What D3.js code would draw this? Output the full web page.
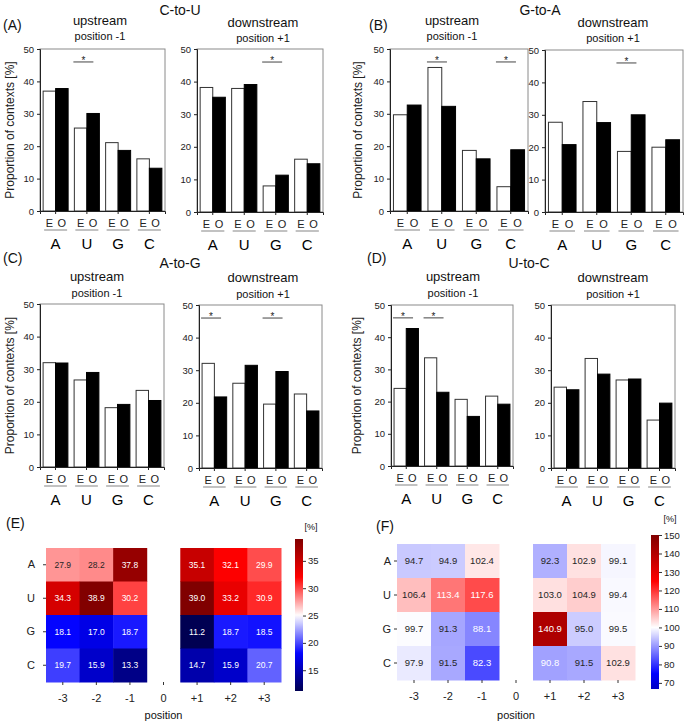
<!DOCTYPE html>
<html>
<head>
<meta charset="utf-8">
<script src="https://cdn.jsdelivr.net/npm/d3@7"></script>
<style>
  body { margin: 0; background: #fff; }
  svg { display: block; font-family: "Liberation Sans", Arial, sans-serif; }
</style>
</head>
<body>
<svg width="685" height="723"></svg>
<script>

// nucleotide categories
const bases = ["A", "U", "G", "C"];

// proportion of contexts [%], E = expected, O = observed
const ctuUpE = [37.0, 25.6, 21.1, 16.1];
const ctuUpO = [37.8, 30.1, 18.7, 13.2];
const ctuDownE = [38.2, 37.9, 8.0, 16.2];
const ctuDownO = [35.2, 39.1, 11.3, 14.8];

const gtaUpE = [29.7, 44.3, 18.7, 7.5];
const gtaUpO = [32.7, 32.3, 16.1, 18.9];
const gtaDownE = [27.7, 34.1, 18.7, 20.0];
const gtaDownO = [20.8, 27.6, 30.0, 22.3];

const atgUpE = [32.0, 26.7, 18.2, 23.5];
const atgUpO = [31.9, 29.0, 19.2, 20.4];
const atgDownE = [32.1, 26.0, 19.6, 22.7];
const atgDownO = [21.8, 31.5, 29.6, 17.5];

const utcUpE = [24.1, 33.6, 20.7, 21.7];
const utcUpO = [42.7, 22.9, 15.4, 19.2];
const utcDownE = [24.8, 33.6, 27.0, 14.7];
const utcDownO = [24.0, 28.8, 27.3, 19.9];

// groups marked with *
const ctuUpSig = ["U"];
const ctuDownSig = ["G"];
const gtaUpSig = ["U", "C"];
const gtaDownSig = ["G"];
const atgUpSig = [];
const atgDownSig = ["A", "G"];
const utcUpSig = ["A", "U"];
const utcDownSig = [];

const yTicks = [0, 10, 20, 30, 40, 50];

// heatmaps (E) and (F), position 0 left empty
const positions = ["-3", "-2", "-1", "0", "+1", "+2", "+3"];
const eA = [27.9, 28.2, 37.8, null, 35.1, 32.1, 29.9];
const eU = [34.3, 38.9, 30.2, null, 39.0, 33.2, 30.9];
const eG = [18.1, 17.0, 18.7, null, 11.2, 18.7, 18.5];
const eC = [19.7, 15.9, 13.3, null, 14.7, 15.9, 20.7];

const fA = [94.7, 94.9, 102.4, null, 92.3, 102.9, 99.1];
const fU = [106.4, 113.4, 117.6, null, 103.0, 104.9, 99.4];
const fG = [99.7, 91.3, 88.1, null, 140.9, 95.0, 99.5];
const fC = [97.9, 91.5, 82.3, null, 90.8, 91.5, 102.9];

const eTicks = [15, 20, 25, 30, 35];
const fTicks = [70, 80, 90, 100, 110, 120, 130, 140, 150];
const eRange = [11.2, 39.0];
const fRange = [66.7, 150];


let svg = d3.select('svg');

// ---------- bar panels ----------

let drawBars = function(box, eVals, oVals, sig, labelX) {
    let [x0, x1, top, bottom] = box;
    let g = svg.append('g');

    let xScale = d3.scaleBand()
        .domain(bases)
        .range([x0, x1]);
    let yScale = d3.scaleLinear()
        .domain([0, 50])
        .range([bottom, top]);
    let bw = xScale.bandwidth();

    // plot frame
    g.append('rect')
        .attr('x', x0).attr('y', top)
        .attr('width', x1 - x0).attr('height', bottom - top)
        .attr('fill', 'none')
        .attr('stroke', '#8a8a8a')
        .attr('stroke-width', 1);

    let rows = bases.map((b, i) => ({ b: b, e: eVals[i], o: oVals[i] }));

    g.selectAll('.ebar')
        .data(rows)
        .enter()
        .append('rect')
        .attr('x', d => xScale(d.b) + bw * 0.1)
        .attr('y', d => yScale(d.e))
        .attr('width', bw * 0.4)
        .attr('height', d => yScale(0) - yScale(d.e))
        .attr('fill', 'white')
        .attr('stroke', '#333')
        .attr('stroke-width', 1);

    g.selectAll('.obar')
        .data(rows)
        .enter()
        .append('rect')
        .attr('x', d => xScale(d.b) + bw * 0.5)
        .attr('y', d => yScale(d.o))
        .attr('width', bw * 0.4)
        .attr('height', d => yScale(0) - yScale(d.o))
        .attr('fill', 'black')
        .attr('stroke', 'black')
        .attr('stroke-width', 1);

    // y axis
    let yAxis = g.append('g')
        .attr('transform', `translate(${x0}, 0)`)
        .call(d3.axisLeft(yScale).tickValues(yTicks).tickSize(3).tickPadding(3));
    yAxis.select('.domain').attr('stroke', '#222');
    yAxis.selectAll('line').attr('stroke', '#222');
    yAxis.selectAll('text')
        .attr('font-size', '9.5px')
        .attr('font-family', '"Liberation Sans", Arial, sans-serif')
        .attr('fill', '#222');

    // x axis with ticks at group centres
    let xAxis = g.append('g')
        .attr('transform', `translate(0, ${bottom})`)
        .call(d3.axisBottom(xScale).tickSize(3).tickFormat(''));
    xAxis.select('.domain').attr('stroke', '#222');
    xAxis.selectAll('line').attr('stroke', '#222');

    // E / O labels, underline and base letter
    rows.forEach(d => {
        let gx = xScale(d.b);
        g.append('text')
            .attr('x', gx + bw * 0.3).attr('y', bottom + 16)
            .attr('text-anchor', 'middle')
            .attr('font-size', '11px')
            .attr('fill', '#222')
            .text('E');
        g.append('text')
            .attr('x', gx + bw * 0.7).attr('y', bottom + 16)
            .attr('text-anchor', 'middle')
            .attr('font-size', '11px')
            .attr('fill', '#222')
            .text('O');
        g.append('line')
            .attr('x1', gx + bw * 0.1 + 1).attr('x2', gx + bw * 0.9 - 1)
            .attr('y1', bottom + 19).attr('y2', bottom + 19)
            .attr('stroke', '#9a9a9a')
            .attr('stroke-width', 1.2);
        g.append('text')
            .attr('x', gx + bw * 0.5).attr('y', bottom + 38)
            .attr('text-anchor', 'middle')
            .attr('font-size', '15px')
            .attr('fill', 'black')
            .text(d.b);
    });

    // significance bars
    sig.forEach(b => {
        let sx = xScale(b) + bw * 0.1 - 1;
        let ly = yScale(46);
        g.append('line')
            .attr('x1', sx).attr('x2', sx + 20)
            .attr('y1', ly).attr('y2', ly)
            .attr('stroke', '#444')
            .attr('stroke-width', 1);
        g.append('text')
            .attr('x', sx + 10).attr('y', ly + 2)
            .attr('text-anchor', 'middle')
            .attr('font-size', '10px')
            .attr('fill', '#222')
            .text('*');
    });

    if (labelX != null) {
        g.append('text')
            .attr('transform', `translate(${labelX}, ${(top + bottom) / 2}) rotate(-90)`)
            .attr('text-anchor', 'middle')
            .attr('font-size', '12px')
            .attr('fill', '#222')
            .text('Proportion of contexts [%]');
    }
}

let addText = function(x, y, txt, size, anchor) {
    svg.append('text')
        .attr('x', x).attr('y', y)
        .attr('text-anchor', anchor || 'middle')
        .attr('font-size', size)
        .attr('fill', '#111')
        .text(txt);
}

let panels = [
    { tag: '(A)', tagX: 3, title: 'C-to-U', titleX: 180, upX: 100, downX: 263, dy: 0,
      up: [40, 165, 49, 211], down: [197, 323, 49, 212], labelX: 14,
      ue: ctuUpE, uo: ctuUpO, us: ctuUpSig, de: ctuDownE, do_: ctuDownO, ds: ctuDownSig },
    { tag: '(B)', tagX: 369, title: 'G-to-A', titleX: 540, upX: 452, downX: 613, dy: 0,
      up: [390, 528, 49, 211], down: [545, 683, 50, 212], labelX: 362,
      ue: gtaUpE, uo: gtaUpO, us: gtaUpSig, de: gtaDownE, do_: gtaDownO, ds: gtaDownSig },
    { tag: '(C)', tagX: 3, title: 'A-to-G', titleX: 180, upX: 97, downX: 263, dy: 255,
      up: [40, 164, 304, 467], down: [199, 322, 305, 468], labelX: 14,
      ue: atgUpE, uo: atgUpO, us: atgUpSig, de: atgDownE, do_: atgDownO, ds: atgDownSig },
    { tag: '(D)', tagX: 367, title: 'U-to-C', titleX: 529, upX: 453, downX: 613, dy: 255,
      up: [391, 513, 305, 466], down: [551, 675, 305, 468], labelX: 361,
      ue: utcUpE, uo: utcUpO, us: utcUpSig, de: utcDownE, do_: utcDownO, ds: utcDownSig }
];

panels.forEach(p => {
    let tagY = p.dy === 0 ? 30 : 263;
    addText(p.tagX, tagY, p.tag, '14px', 'start');
    addText(p.titleX, p.dy === 0 ? 15 : 268, p.title, '14px');
    addText(p.upX, (p.dy === 0 ? 25 : 281), 'upstream', '13px');
    addText(p.upX, (p.dy === 0 ? 40 : 297), 'position -1', '11px');
    addText(p.downX, (p.dy === 0 ? 27 : 282), 'downstream', '13px');
    addText(p.downX, (p.dy === 0 ? 42 : 298), 'position +1', '11px');
    drawBars(p.up, p.ue, p.uo, p.us, p.labelX);
    drawBars(p.down, p.de, p.do_, p.ds, null);
});

// ---------- heatmaps ----------

// matplotlib "seismic" colours
const seismic = ['rgb(0,0,77)', 'rgb(0,0,255)', 'rgb(255,255,255)', 'rgb(255,0,0)', 'rgb(128,0,0)'];

let luminance = function(c) {
    let lin = v => { v = v / 255; return v <= 0.03928 ? v / 12.92 : Math.pow((v + 0.055) / 1.055, 2.4); };
    return 0.2126 * lin(c.r) + 0.7152 * lin(c.g) + 0.0722 * lin(c.b);
}

let drawHeat = function(opt) {
    let g = svg.append('g');
    let rows = [opt.rows[0], opt.rows[1], opt.rows[2], opt.rows[3]];
    let half = opt.half;
    let color = d3.scaleLinear()
        .domain([opt.center - half, opt.center - half / 2, opt.center, opt.center + half / 2, opt.center + half])
        .range(seismic)
        .clamp(true);

    let xScale = d3.scaleBand().domain(positions).range([opt.x0, opt.x1]);
    let yScale = d3.scaleBand().domain(bases).range([opt.y0, opt.y1]);

    let cells = [];
    rows.forEach((r, i) => r.forEach((v, j) => {
        if (v != null) cells.push({ b: bases[i], p: positions[j], v: v });
    }));

    g.selectAll('.cell')
        .data(cells)
        .enter()
        .append('rect')
        .attr('x', d => xScale(d.p))
        .attr('y', d => yScale(d.b))
        .attr('width', xScale.bandwidth() + 0.5)
        .attr('height', yScale.bandwidth() + 0.5)
        .attr('fill', d => color(d.v));

    g.selectAll('.val')
        .data(cells)
        .enter()
        .append('text')
        .attr('x', d => xScale(d.p) + xScale.bandwidth() / 2)
        .attr('y', d => yScale(d.b) + yScale.bandwidth() / 2 + 3)
        .attr('text-anchor', 'middle')
        .attr('font-size', opt.cellFont)
        .attr('fill', d => luminance(d3.rgb(color(d.v))) > 0.408 ? '#262626' : 'white')
        .text(d => d.v.toFixed(1));

    let xAxis = g.append('g')
        .attr('transform', `translate(0, ${opt.y1})`)
        .call(d3.axisBottom(xScale).tickSize(3).tickPadding(9));
    xAxis.select('.domain').remove();
    xAxis.selectAll('line').attr('stroke', '#333');
    xAxis.selectAll('text')
        .attr('font-size', '11px')
        .attr('font-family', '"Liberation Sans", Arial, sans-serif')
        .attr('fill', '#222');

    let yAxis = g.append('g')
        .attr('transform', `translate(${opt.x0}, 0)`)
        .call(d3.axisLeft(yScale).tickSize(3).tickPadding(opt.rowPad));
    yAxis.select('.domain').remove();
    yAxis.selectAll('line').attr('stroke', '#333');
    yAxis.selectAll('text')
        .attr('font-size', '11px')
        .attr('font-family', '"Liberation Sans", Arial, sans-serif')
        .attr('fill', '#222');

    addText((opt.x0 + opt.x1) / 2, 719, 'position', '11px');

    // colour bar
    let gradId = 'grad' + opt.id;
    let grad = svg.append('defs').append('linearGradient')
        .attr('id', gradId)
        .attr('x1', 0).attr('x2', 0).attr('y1', 1).attr('y2', 0);
    d3.range(0, 1.0001, 0.05).forEach(t => {
        let v = opt.range[0] + t * (opt.range[1] - opt.range[0]);
        grad.append('stop').attr('offset', t).attr('stop-color', color(v));
    });
    let cScale = d3.scaleLinear().domain(opt.range).range([opt.cb[3], opt.cb[2]]);
    g.append('rect')
        .attr('x', opt.cb[0]).attr('y', opt.cb[2])
        .attr('width', opt.cb[1] - opt.cb[0])
        .attr('height', opt.cb[3] - opt.cb[2])
        .attr('fill', `url(#${gradId})`);
    let cAxis = g.append('g')
        .attr('transform', `translate(${opt.cb[1]}, 0)`)
        .call(d3.axisRight(cScale).tickValues(opt.ticks).tickSize(3).tickPadding(2));
    cAxis.select('.domain').remove();
    cAxis.selectAll('line').attr('stroke', '#333');
    cAxis.selectAll('text')
        .attr('font-size', '9.5px')
        .attr('font-family', '"Liberation Sans", Arial, sans-serif')
        .attr('fill', '#222');

    addText(opt.pctX, opt.pctY, '[%]', '9px');
    addText(opt.tagX, opt.tagY, opt.tag, '14px', 'start');
}

drawHeat({ id: 'E', rows: [eA, eU, eG, eC], center: 25, half: 14, range: eRange, ticks: eTicks,
    x0: 46, x1: 281, y0: 548, y1: 682, cb: [295, 303, 539, 691], cellFont: '8.5px', rowPad: 8,
    pctX: 311, pctY: 530, tag: '(E)', tagX: 6, tagY: 528 });

drawHeat({ id: 'F', rows: [fA, fU, fG, fC], center: 100, half: 50, range: fRange, ticks: fTicks,
    x0: 397, x1: 635, y0: 544, y1: 680, cb: [651, 659, 535, 689], cellFont: '9.5px', rowPad: 3,
    pctX: 670, pctY: 522, tag: '(F)', tagX: 376, tagY: 531 });

</script>
</body>
</html>
